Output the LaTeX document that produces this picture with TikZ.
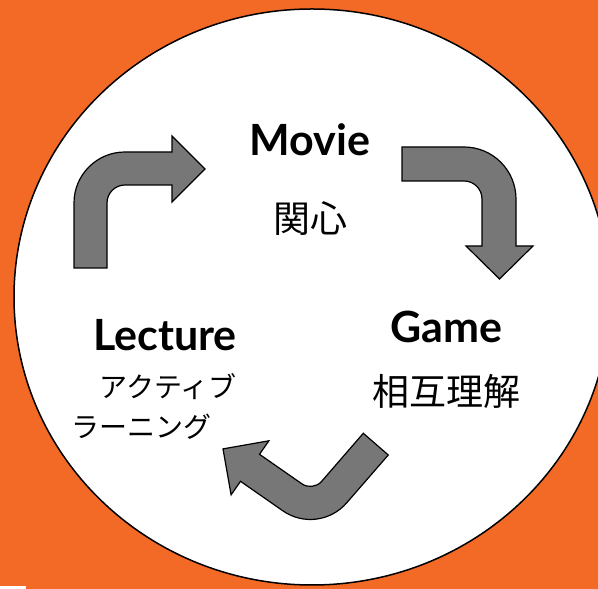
\documentclass[tikz,border=0pt]{standalone}
\usepackage{fontspec}
\setmainfont{Lato}
\newfontfamily\jpfont{Noto Sans CJK JP}
\usetikzlibrary{positioning}
\definecolor{bgorange}{HTML}{F36A26}
\definecolor{arrowgrey}{HTML}{777777}

\begin{document}
\begin{tikzpicture}[x=1pt, y=1pt, node distance=10pt,
        title/.style={inner sep=0pt, font=\fontsize{43}{50}\selectfont\bfseries},
        sub/.style={inner sep=0pt, font=\jpfont\fontsize{37}{44}\selectfont},
        kana/.style={inner sep=0pt, align=left, font=\jpfont\fontsize{28}{40}\selectfont},
        bent/.style={draw=black, line width=1.2pt, fill=arrowgrey}]
        \useasboundingbox (0,0) rectangle (598,589);
        \clip (0,0) rectangle (598,589);
        \fill[bgorange] (0,0) rectangle (598,589);
        \fill[white] (0,0) rectangle (26,3);
        \draw[line width=1.5pt, fill=white] (312,292) ellipse [x radius=298, y radius=288];

        \node[title]                                (movie)   at (310,449) {Movie};
        \node[sub, below=45pt of movie]             (kanshin) {関心};
        \node[title]                                (game)    at (446,262) {Game};
        \node[sub, below=31pt of game]              (sogo)    {相互理解};
        \node[title]                                (lecture) at (165,254) {Lecture};
        \node[kana, below=22pt of lecture, xshift=-11pt] (active) {\hspace*{1em}アクティブ\\ラーニング};

        % Lecture -> Movie
        \draw[bent] (74,321) -- (74,386) arc[start angle=180, end angle=90, radius=51]
            -- (172,437) -- (172,453) -- (205,420) -- (172,387) -- (172,404) -- (125,404)
            arc[start angle=90, end angle=180, radius=18] -- (107,321) -- cycle;
        % Movie -> Game
        \draw[bent] (402,442) -- (464,442) arc[start angle=90, end angle=0, radius=52]
            -- (516,343) -- (533,343) -- (499.5,310) -- (466,343) -- (482,343) -- (482,390)
            arc[start angle=0, end angle=90, radius=18] -- (402,408) -- cycle;
        % Game -> Lecture
        \draw[bent] (363.3,155.7) -- (321.7,107.7) arc[start angle=319, end angle=235, radius=15]
            -- (259.5,134.7) -- (268.9,148.2) -- (223,140.1) -- (231.1,94.2) -- (240.5,107.7)
            -- (282.8,78.2) arc[start angle=235, end angle=319, radius=48]
            -- (388.3,134) -- cycle;
\end{tikzpicture}
\end{document}
